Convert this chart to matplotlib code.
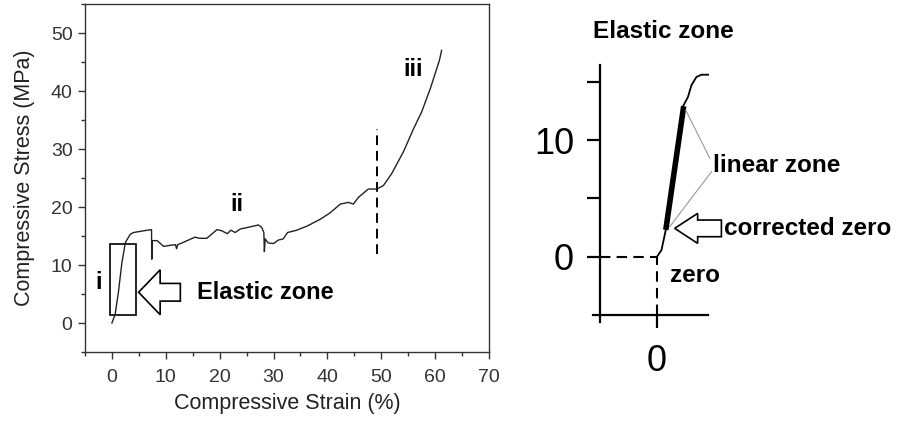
import matplotlib.pyplot as plt
from matplotlib.patches import FancyArrow
from matplotlib.ticker import MultipleLocator

plt.rcParams['font.family'] = ['Liberation Sans', 'DejaVu Sans']

# main stress-strain curve
strain = [0, 0.6, 1.2, 1.85, 2.5, 3.4, 4.0, 5.9, 7.35, 7.4, 7.5, 8.4, 9.6, 10.8,
          11.8, 12.0, 12.2, 13.0, 14.2, 15.4, 16.3, 17.6, 18.5, 19.5, 20.4, 21.4,
          22.1, 22.9, 23.8, 25.3, 27.2, 27.8, 28.2, 28.3, 28.45, 29.0, 30.0, 30.9,
          31.8, 32.6, 34.3, 36.2, 38.7, 40.5, 42.4, 43.9, 44.8, 45.8, 47.6, 49.2,
          50.4, 51.9, 54.1, 56.0, 57.5, 59.1, 60.8, 61.2]
stress = [0, 1.5, 5.3, 10.4, 13.9, 15.3, 15.6, 15.9, 16.1, 11.0, 14.2, 14.2, 13.2, 13.4,
          13.5, 12.8, 13.5, 13.8, 14.3, 14.8, 14.6, 14.6, 15.3, 16.1, 15.9, 15.4,
          16.0, 15.6, 16.2, 16.5, 16.9, 16.5, 15.6, 12.3, 14.5, 13.8, 13.7, 14.3,
          14.5, 15.6, 16.0, 16.7, 17.9, 19.0, 20.5, 20.8, 20.5, 21.7, 23.1, 23.1,
          23.7, 25.7, 29.5, 33.5, 36.4, 40.4, 45.3, 47.0]

# elastic zone close-up
zoom_strain = [0, 0.35, 0.69, 2.05, 2.44, 2.71, 3.10, 3.50, 4.02]
zoom_stress = [0, 0.57, 2.3, 12.9, 13.7, 14.7, 15.4, 15.6, 15.6]
linear_strain = [0.69, 2.10]
linear_stress = [2.3, 12.9]

grey = '#333333'

fig = plt.figure(figsize=(9.03, 4.28), dpi=100)
ax = fig.add_axes([85 / 903, 1 - 352 / 428, 404 / 903, 348 / 428])

ax.plot(strain, stress, color='#222222', lw=1.0)
ax.plot([49.3, 49.3], [11.9, 33.5], color='black', lw=1.4, ls=(0, (5, 3)))
ax.add_patch(plt.Rectangle((-0.45, 1.4), 4.9, 12.2, fill=False, ec='black', lw=1.2))
ax.add_patch(FancyArrow(12.7, 5.3, -7.75, 0, width=3.05, head_width=7.75, head_length=4.0,
                        length_includes_head=True, fc='white', ec='black', lw=1.2))

ax.text(15.8, 5.3, 'Elastic zone', fontsize=17, fontweight='bold', va='center', ha='left')
ax.text(-2.5, 7.0, 'i', fontsize=17, fontweight='bold', va='center', ha='center')
ax.text(23.2, 20.5, 'ii', fontsize=17, fontweight='bold', va='center', ha='center')
ax.text(56.0, 43.7, 'iii', fontsize=17, fontweight='bold', va='center', ha='center')

ax.set_xlim(-5, 70)
ax.set_ylim(-5, 55)
ax.xaxis.set_major_locator(MultipleLocator(10))
ax.xaxis.set_minor_locator(MultipleLocator(5))
ax.yaxis.set_major_locator(MultipleLocator(10))
ax.yaxis.set_minor_locator(MultipleLocator(5))
ax.tick_params(which='major', length=5, width=1, color=grey, labelsize=14,
               labelcolor=grey, pad=4)
ax.tick_params(which='minor', length=3, width=1, color=grey)
ax.tick_params(axis='x', pad=7)
for s in ax.spines.values():
    s.set_color(grey)
    s.set_linewidth(1.0)
ax.set_xlabel('Compressive Strain (%)', fontsize=15.5, color='#222222', labelpad=5)
ax.set_ylabel('Compressive Stress (MPa)', fontsize=15.5, color='#222222', labelpad=11)

# inset
ins = fig.add_axes([590 / 903, 1 - 330 / 428, 122 / 903, 270 / 428])
ins.set_xlim(-5.28, 4.33)
ins.set_ylim(-6.28, 16.86)
ins.patch.set_visible(False)
ins.spines['top'].set_visible(False)
ins.spines['right'].set_visible(False)
ins.spines['left'].set_position(('data', -4.51))
ins.spines['left'].set_bounds(-5.6, 16.43)
ins.spines['bottom'].set_position(('data', -5.0))
ins.spines['bottom'].set_bounds(-5.06, 4.02)
for s in ('left', 'bottom'):
    ins.spines[s].set_linewidth(1.6)
    ins.spines[s].set_color('black')

ins.plot(zoom_strain, zoom_stress, color='black', lw=1.3)
ins.plot(linear_strain, linear_stress, color='black', lw=4, solid_capstyle='butt')
ins.plot([-4.51, 0], [0, 0], color='black', lw=1.5, ls=(0, (5, 3)))
ins.plot([0, 0], [-5.0, 0], color='black', lw=1.5, ls=(0, (5, 3)))

ins.set_yticks([0, 5, 10, 15])
ins.set_yticklabels(['0', '', '10', ''])
ins.set_xticks([0])
ins.set_xticklabels(['0'])
ins.tick_params(length=9.5, width=1.6, color='black', labelsize=26, pad=9)
ins.tick_params(axis='x', pad=11)

ins.text(-5.06, 19.26, 'Elastic zone', fontsize=17.5, fontweight='bold', va='center', ha='left')
ins.annotate('linear zone', xy=(2.26, 12.56), xytext=(4.38, 7.86), fontsize=17.5,
             fontweight='bold', va='center', ha='left',
             arrowprops=dict(arrowstyle='-', color='#999999', lw=0.8,
                             shrinkA=0, shrinkB=0, relpos=(0, 0.55)))
ins.annotate('', xy=(1.0, 2.57), xytext=(4.3, 7.3),
             arrowprops=dict(arrowstyle='-', color='#999999', lw=0.8, shrinkA=0, shrinkB=0))
ins.add_patch(FancyArrow(5.07, 2.43, -3.68, 0, width=1.43, head_width=2.57, head_length=1.81,
                         length_includes_head=True, fc='white', ec='black', lw=1.2,
                         clip_on=False))
ins.text(5.25, 2.43, 'corrected zero', fontsize=17.5, fontweight='bold', va='center', ha='left')
ins.text(1.0, -1.57, 'zero', fontsize=17.5, fontweight='bold', va='center', ha='left')

fig.savefig('out.png', dpi=100)
